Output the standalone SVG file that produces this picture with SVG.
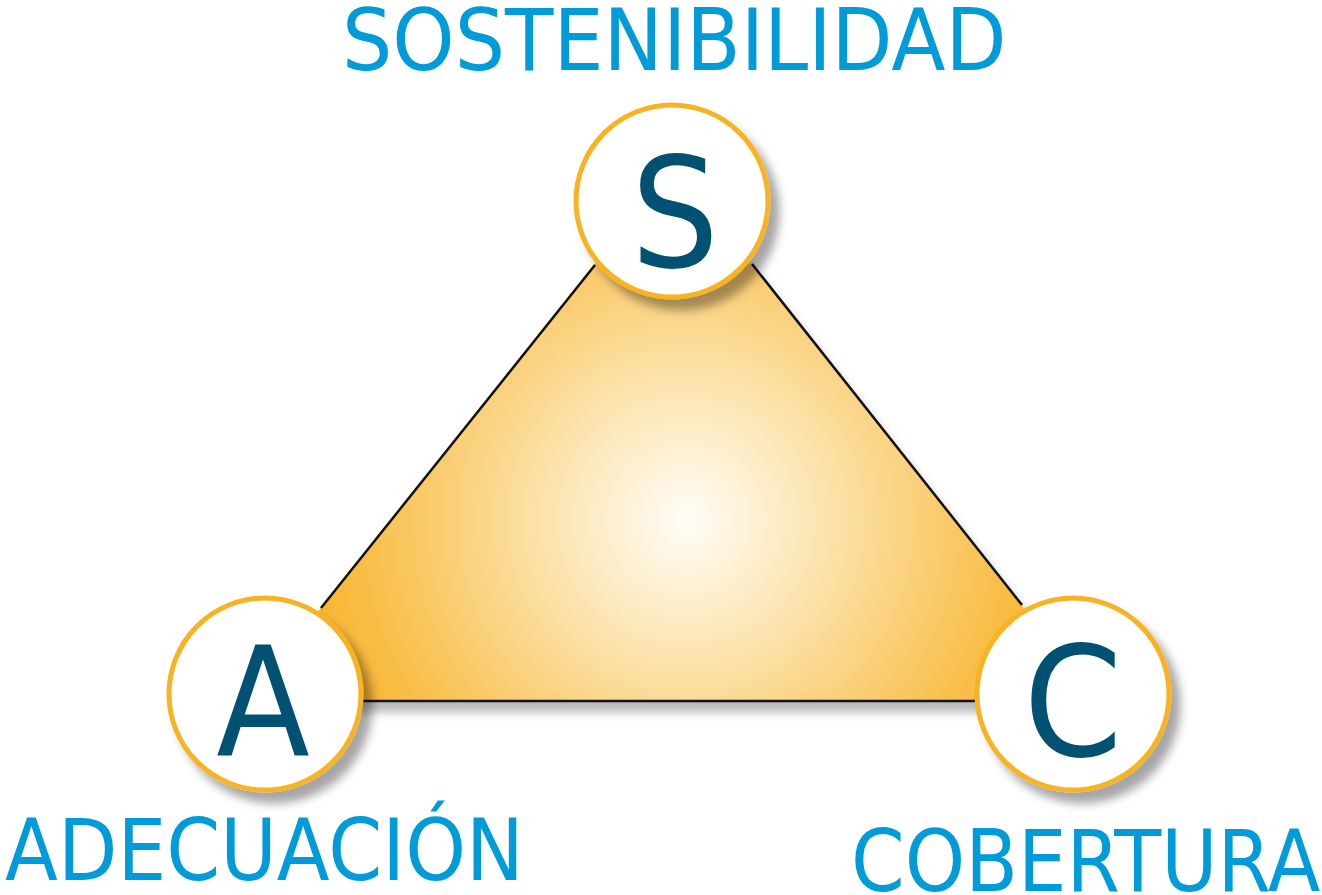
<svg xmlns="http://www.w3.org/2000/svg" width="1322" height="895" viewBox="0 0 1322 895">
<defs>
<radialGradient id="tri" cx="686" cy="520" r="430" gradientUnits="userSpaceOnUse">
<stop offset="0" stop-color="#FFFDF8"/>
<stop offset="0.3" stop-color="#FCE5B3"/>
<stop offset="0.75" stop-color="#F9BE48"/>
<stop offset="1" stop-color="#F8AE1E"/>
</radialGradient>
<filter id="sh" x="-20%" y="-20%" width="150%" height="150%">
<feGaussianBlur in="SourceAlpha" stdDeviation="5"/>
<feOffset dx="9" dy="11" result="b"/>
<feFlood flood-color="#000" flood-opacity="0.35"/>
<feComposite in2="b" operator="in"/>
<feMerge><feMergeNode/><feMergeNode in="SourceGraphic"/></feMerge>
</filter>
<filter id="tsh" x="-10%" y="-10%" width="120%" height="130%">
<feGaussianBlur in="SourceAlpha" stdDeviation="5"/>
<feOffset dx="8" dy="11" result="b"/>
<feFlood flood-color="#000" flood-opacity="0.28"/>
<feComposite in2="b" operator="in"/>
<feMerge><feMergeNode/><feMergeNode in="SourceGraphic"/></feMerge>
</filter>
</defs>
<style>
.lbl{font-family:"DejaVu Sans",Verdana,sans-serif;fill:#009BD8;font-size:86px}
.ltr{font-family:"DejaVu Sans",Verdana,sans-serif;fill:#005172;text-anchor:middle}
.node{fill:#fff;stroke:#F8B323;stroke-width:5}
</style>
<g id="connectors">
<polygon points="672,166 247,701 1098,701" fill="url(#tri)" filter="url(#tsh)"/>
<line x1="595" y1="265" x2="321" y2="608" stroke="#111" stroke-width="2.5"/>
<line x1="752" y1="264" x2="1022" y2="605" stroke="#111" stroke-width="2.5"/>
<line x1="360" y1="701" x2="978" y2="701" stroke="#111" stroke-width="2.5"/>
</g>
<g id="node-S">
<circle class="node" cx="672" cy="201" r="96" filter="url(#sh)"/>
<text class="ltr" transform="translate(675,267) scale(0.9,1)" font-size="154">S</text>
</g>
<g id="node-A">
<circle class="node" cx="265" cy="694" r="96" filter="url(#sh)"/>
<text class="ltr" transform="translate(263,755) scale(0.9,1)" font-size="152">A</text>
</g>
<g id="node-C">
<circle class="node" cx="1073" cy="694" r="96" filter="url(#sh)"/>
<text class="ltr" transform="translate(1073,756) scale(0.92,1)" font-size="154">C</text>
</g>
<g id="labels">
<text class="lbl" transform="translate(342,70) scale(0.922,1)">SOSTENIBILIDAD</text>
<text class="lbl" transform="translate(5,880) scale(0.899,1)">ADECUACIÓN</text>
<text class="lbl" transform="translate(851,891) scale(0.894,1)">COBERTURA</text>
</g>
</svg>
